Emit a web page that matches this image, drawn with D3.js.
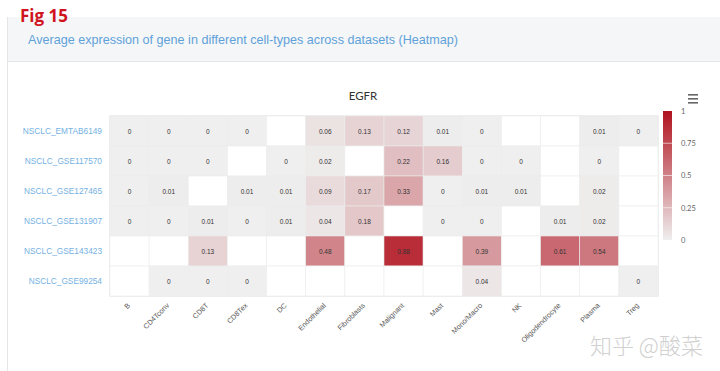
<!DOCTYPE html>
<html><head><meta charset="utf-8">
<script src="https://cdn.jsdelivr.net/npm/d3@7"></script>
<style>
html,body{margin:0;padding:0;background:#fff;}
svg{display:block;font-family:"Liberation Sans",Arial,sans-serif;}
</style></head>
<body>
<svg id="c" width="720" height="371"></svg>
<script>
const datasets = ["NSCLC_EMTAB6149","NSCLC_GSE117570","NSCLC_GSE127465","NSCLC_GSE131907","NSCLC_GSE143423","NSCLC_GSE99254"];
const cellTypes = ["B","CD4Tconv","CD8T","CD8Tex","DC","Endothelial","Fibroblasts","Malignant","Mast","Mono/Macro","NK","Oligodendrocyte","Plasma","Treg"];
const rowEMTAB6149 = [0,0,0,0,null,0.06,0.13,0.12,0.01,0,null,null,0.01,0];
const rowGSE117570 = [0,0,0,null,0,0.02,null,0.22,0.16,0,0,null,0,null];
const rowGSE127465 = [0,0.01,null,0.01,0.01,0.09,0.17,0.33,0,0.01,0.01,null,0.02,null];
const rowGSE131907 = [0,0,0.01,0,0.01,0.04,0.18,null,0,0,null,0.01,0.02,null];
const rowGSE143423 = [null,null,0.13,null,null,0.48,null,0.88,null,0.39,null,0.61,0.54,null];
const rowGSE99254  = [null,0,0,0,null,null,null,null,null,0.04,null,null,null,0];
const legendTicks = [0,0.25,0.5,0.75,1];
const gene = "EGFR";
const rows = [rowEMTAB6149,rowGSE117570,rowGSE127465,rowGSE131907,rowGSE143423,rowGSE99254];

const svg = d3.select("#c");

// header
svg.append("rect").attr("x",7).attr("y",17).attr("width",713).attr("height",44).attr("fill","#f5f6f8");
svg.append("line").attr("x1",7).attr("x2",720).attr("y1",61.5).attr("y2",61.5).attr("stroke","#e4e7ea");
svg.append("line").attr("x1",7.5).attr("x2",7.5).attr("y1",17).attr("y2",371).attr("stroke","#e4e7ea");
svg.append("text").attr("x",20).attr("y",22).attr("fill","#d0141e").attr("font-weight","bold")
  .attr("font-size",17).attr("font-family","'Open Sans','Noto Sans',sans-serif").text("Fig 15");
svg.append("text").attr("x",28).attr("y",44).attr("fill","#5fa2d9").attr("font-size",12.6)
  .text("Average expression of gene in different cell-types across datasets (Heatmap)");

// chart
const x = d3.scaleBand().domain(cellTypes).range([110,658]);
const y = d3.scaleBand().domain(datasets).range([116,296]);
const color = d3.scaleLinear().domain([0,1]).range(["#efefef","#b0121e"]).interpolate(d3.interpolateRgb);

svg.append("text").attr("x",363).attr("y",100).attr("text-anchor","middle").attr("font-size",11.5)
  .attr("fill","#333").attr("font-family","'Lato','Noto Sans',sans-serif").text(gene);

const cells = [];
rows.forEach((r,i)=>r.forEach((v,j)=>cells.push({ds:datasets[i],ct:cellTypes[j],v})));

svg.append("rect").attr("x",110).attr("y",116).attr("width",548).attr("height",180)
  .attr("fill","#fff").attr("stroke","#e2e2e2");

const g = svg.append("g");
g.selectAll("rect.cell").data(cells).join("rect").attr("class","cell")
  .attr("x",d=>x(d.ct)).attr("y",d=>y(d.ds))
  .attr("width",x.bandwidth()).attr("height",y.bandwidth())
  .attr("fill",d=>d.v===null?"#ffffff":color(d.v))
  .attr("stroke","#ececec").attr("stroke-width",0.6);
g.selectAll("text.val").data(cells.filter(d=>d.v!==null)).join("text").attr("class","val")
  .attr("x",d=>x(d.ct)+x.bandwidth()/2).attr("y",d=>y(d.ds)+y.bandwidth()/2+2.5)
  .attr("text-anchor","middle").attr("font-size",6.5).attr("fill","#333")
  .text(d=>d.v);

// y axis
const ya = svg.append("g").attr("transform","translate(110,0)")
  .call(d3.axisLeft(y).tickSize(0).tickPadding(8));
ya.select(".domain").remove();
ya.selectAll("text").attr("fill","#74b1e2").attr("font-size",8.3).attr("font-family","'Liberation Sans',Arial,sans-serif");

// x axis
const xa = svg.append("g").attr("transform","translate(0,296)")
  .call(d3.axisBottom(x).tickSize(0).tickPadding(0));
xa.select(".domain").remove();
xa.selectAll("text").attr("fill","#555").attr("font-size",7.2)
  .attr("font-family","'Liberation Sans',Arial,sans-serif")
  .attr("text-anchor","end").attr("dy",0)
  .attr("transform","translate(1,10) rotate(-45)");

// legend
const defs = svg.append("defs");
const grad = defs.append("linearGradient").attr("id","lg").attr("x1",0).attr("x2",0).attr("y1",1).attr("y2",0);
grad.append("stop").attr("offset","0%").attr("stop-color",color(0));
grad.append("stop").attr("offset","100%").attr("stop-color",color(1));
const ly = d3.scaleLinear().domain([0,1]).range([240,111]);
svg.append("rect").attr("x",663).attr("y",111).attr("width",9).attr("height",129).attr("fill","url(#lg)");
const la = svg.append("g").attr("transform","translate(672,0)")
  .call(d3.axisRight(ly).tickValues(legendTicks).tickSize(0).tickPadding(9).tickFormat(d3.format("")));
la.select(".domain").remove();
la.selectAll("text").attr("fill","#666").attr("font-size",7.5).attr("font-family","'Lato','Noto Sans',sans-serif");
svg.selectAll("line.sep").data(legendTicks.filter(t=>t>0&&t<1)).join("line").attr("class","sep")
  .attr("x1",663).attr("x2",672).attr("y1",d=>ly(d)).attr("y2",d=>ly(d)).attr("stroke","#fff").attr("stroke-opacity",0.6);

// menu icon
[94,98,102].forEach(yy=>svg.append("rect").attr("x",688).attr("y",yy).attr("width",10).attr("height",1.6).attr("fill","#666"));

// watermark
svg.append("text").attr("x",590).attr("y",354).attr("font-size",22).attr("fill","#d0d0d0")
  .attr("font-family","'Noto Sans CJK SC',sans-serif").attr("font-weight",300).text("知乎 @酸菜");
</script>
</body></html>
